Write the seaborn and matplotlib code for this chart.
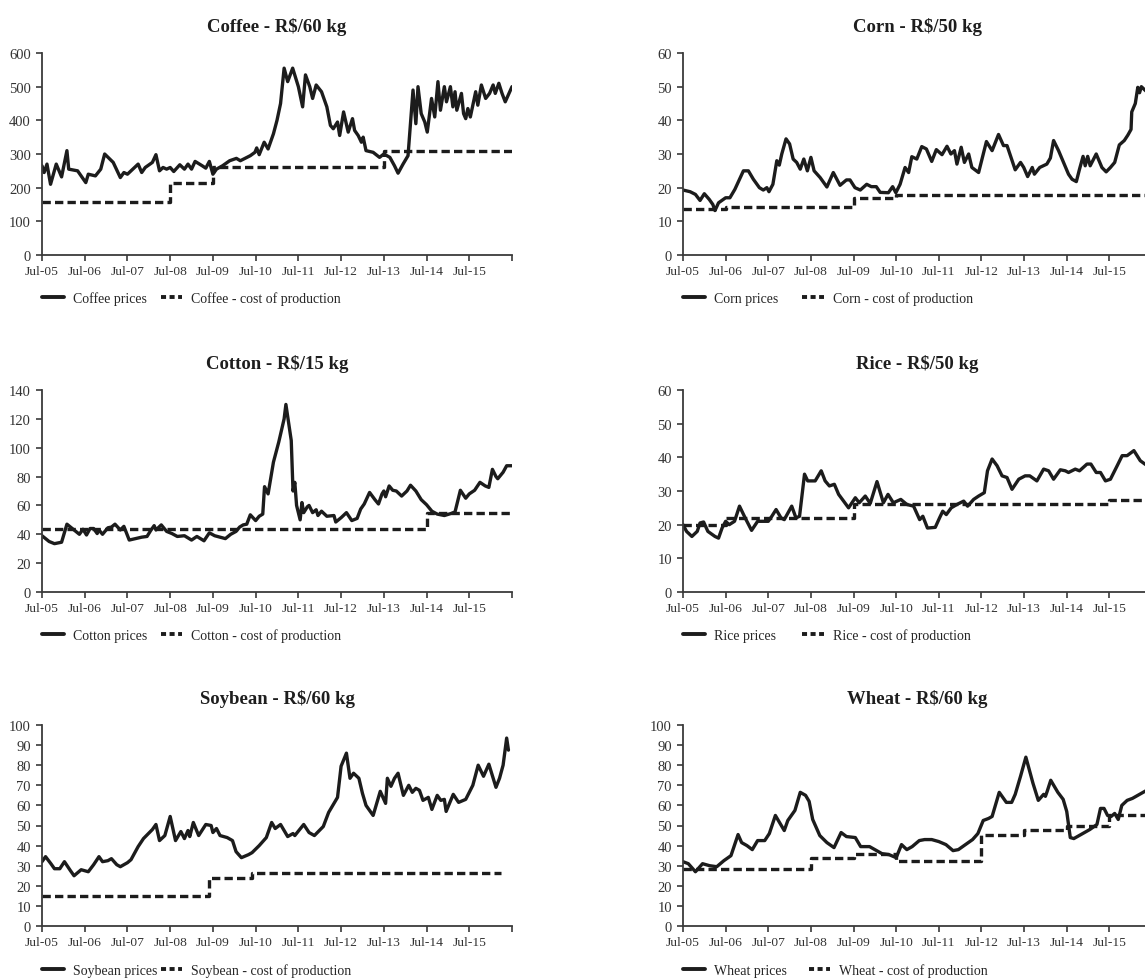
import matplotlib
matplotlib.use("Agg")
import matplotlib.pyplot as plt
from matplotlib.lines import Line2D
import seaborn as sns

# month index: 0 = Jul-05, 132 = Jul-16
tick_months = [0, 12, 24, 36, 48, 60, 72, 84, 96, 108, 120, 132]
tick_labels = ['Jul-05', 'Jul-06', 'Jul-07', 'Jul-08', 'Jul-09', 'Jul-10',
               'Jul-11', 'Jul-12', 'Jul-13', 'Jul-14', 'Jul-15', '']

coffee_m = [0, 0.6, 1.4, 2.4, 4, 5.5, 7, 7.5, 10, 12.3, 13, 15, 16.5, 17.6, 20, 22, 23, 24, 27, 28, 29, 31, 32, 33,
            34, 35, 36, 37, 38.7, 40, 41, 42, 43, 45, 46, 47, 48, 49, 50.7, 52.7, 54.6, 55.7, 58.5, 59.8, 60.3, 61,
            62.4, 63.5, 65, 66, 67, 68, 69, 70.4, 72, 73.2, 74, 75.2, 76, 77, 78.5, 80, 81, 81.8, 83, 83.6, 84.7,
            86, 87.2, 87.8, 88.8, 89.7, 90.2, 91, 93, 94.8, 96, 97.7, 99, 100, 101.4, 102.8, 104.2, 105, 105.6,
            106.5, 107.5, 108.2, 109.4, 110.3, 111.2, 111.9, 113, 113.6, 114.7, 115.4, 116, 116.5, 117.8, 118.4,
            119, 119.6, 120.3, 121, 121.8, 122.4, 123.4, 124.6, 125.7, 126.7, 127.3, 128.3, 129.2, 130.1, 132]
coffee_p = [265, 245, 270, 210, 270, 232, 310, 255, 250, 215, 240, 235, 255, 300, 275, 230, 245, 240, 270, 245, 260,
            275, 298, 250, 260, 255, 260, 248, 268, 255, 270, 255, 278, 265, 258, 278, 240, 255, 265, 280, 287, 280,
            295, 305, 318, 298, 335, 315, 360, 400, 450, 555, 515, 555, 500, 440, 535, 500, 465, 505, 485, 440, 385,
            375, 395, 355, 425, 365, 405, 370, 355, 335, 350, 310, 305, 290, 300, 290, 265, 243, 270, 295, 490, 390,
            500, 420, 395, 365, 465, 410, 515, 430, 500, 455, 500, 440, 485, 430, 480, 420, 405, 435, 410, 445, 485,
            445, 505, 465, 480, 505, 480, 510, 480, 455, 500]
coffee_cost_m = [0, 36, 48, 96, 132]
coffee_cost = [158, 215, 262, 310, 310]

corn_m = [0, 2, 3.5, 4.8, 6, 7.4, 8.4, 9, 10, 12, 13.2, 14.6, 17, 18.4, 19.8, 21.5, 22.6, 23.6, 24.2, 25.3, 26.4,
          27.1, 27.8, 29, 30, 31, 32, 33, 34, 35, 36, 36.9, 38.6, 40.5, 42.3, 44.2, 46, 47, 48.4, 49.9, 51.7, 53,
          54.4, 55.5, 57.8, 59, 59.9, 61.1, 62.5, 63.5, 64.4, 65.8, 67.2, 68.5, 70, 71.3, 72.9, 74.3, 75.4, 76.4,
          77.1, 78.3, 79.2, 80.4, 81.3, 83.2, 85.4, 87, 88.8, 90.2, 91.2, 93.5, 95, 95.9, 97, 98.3, 98.9, 100.4,
          102.4, 103.4, 104.3, 105.7, 108.5, 109.5, 110.7, 111.6, 112.6, 113.2, 113.9, 114.6, 116.3, 117.9, 119.1,
          120.3, 121.5, 122.8, 124.2, 125.2, 126.1, 126.3, 127.3, 128, 128.5, 129, 130, 131]
corn_p = [19.3, 18.8, 18, 16.2, 18.2, 16.5, 15, 13.2, 15.5, 17, 17, 19.5, 25, 25, 22.5, 20, 19.3, 20, 18.8, 21, 28,
          26.7, 30, 34.5, 33, 28.5, 27.5, 25.5, 28.5, 25, 29, 25, 23, 20.2, 24.5, 20.7, 22.3, 22.3, 20, 19.3, 21,
          20.3, 20.3, 18.6, 18.5, 20.3, 18.5, 21, 26, 24.5, 29.2, 28.5, 32.2, 31.5, 27.8, 31.3, 29.8, 32.3, 30, 31,
          27, 32, 27.5, 30, 26, 24.5, 33.7, 31, 35.8, 32.5, 32.5, 25.3, 27.5, 26, 23.3, 26, 24, 26, 27, 28.8, 34,
          31, 24, 22.5, 21.8, 25.5, 29.3, 26.5, 29.3, 26.5, 30, 26, 24.7, 26, 27.5, 32.7, 34, 35.6, 37.3, 42.5, 45,
          49.8, 48.2, 50, 49, 48]
corn_cost_m = [0, 12, 48, 60, 132]
corn_cost = [13.8, 14.4, 16.8, 17.8, 17.8]

cotton_m = [0, 2, 3.5, 5.5, 7, 8, 10.5, 11.5, 12.5, 13.5, 14.5, 15.5, 16, 17, 18.5, 19.5, 20.5, 22, 23, 24.5, 28,
            29.5, 30.5, 31.5, 32, 33.5, 35, 36.5, 38, 40, 42, 43.5, 45.5, 47, 48.5, 50, 51.5, 53, 54.5, 55.5, 56.5,
            57.5, 58.5, 60, 61, 62, 62.5, 63.5, 65, 66.5, 68, 68.5, 70, 70.5, 71, 71.5, 72.5, 73, 73.5, 74.5, 75,
            76, 77, 77.5, 78.5, 80, 82, 82.5, 84, 85.5, 87, 88.5, 89.5, 90.5, 92, 93.5, 94.5, 95.5, 96, 96.5, 97.5,
            98.5, 99.5, 101, 102.5, 103.5, 105, 106.5, 108, 109.5, 111, 113, 115, 116, 117.5, 119, 120, 121.5, 123,
            124.5, 125.5, 126.5, 127.5, 128, 129.5, 130.5, 132]
cotton_p = [39, 35, 33.5, 34.5, 47, 45, 40, 43.5, 39.5, 44, 44, 40.5, 43, 40, 44.5, 45, 47, 43, 45.5, 36, 38, 38.5,
            42.5, 46, 43, 46.5, 42, 40.5, 38.5, 39, 36, 38.5, 35.5, 41, 39, 38, 37, 40, 42, 45, 46.5, 47, 53.5,
            49.5, 52.5, 54, 73, 68, 90, 104, 120, 130, 105, 70, 76, 60, 50, 62, 55, 59, 60, 55, 57, 53, 56, 52.5,
            53, 48.5, 51.5, 55, 49.5, 51, 57.5, 61, 69, 64, 61, 68, 70, 66, 73.5, 70.5, 70, 66.5, 70, 74, 70, 64,
            60.5, 56, 54, 53, 54.5, 55.5, 70.5, 65, 68, 70.5, 76, 73.5, 72.5, 85, 80, 78.5, 83, 87.5, 87.5]
cotton_cost_m = [0, 108, 132]
cotton_cost = [44, 54.5, 54.5]

rice_m = [0, 1, 2.5, 4, 4.8, 5.8, 7, 9, 10, 11, 12, 13, 14.5, 15.9, 17.5, 19.3, 21, 23, 24, 25, 26.2, 27.6, 28.5,
          30.6, 31.8, 32.8, 34.2, 35.1, 37.2, 38.9, 40, 41.2, 42.6, 43.8, 45.2, 46.6, 48.5, 49.6, 51.3, 52.7, 54.6,
          56.4, 57.7, 59.2, 61.3, 63, 64.9, 66.6, 67.5, 68.8, 71, 72.2, 73.1, 74.1, 75.5, 77.1, 79, 80.1, 81.8,
          83.2, 84.8, 85.7, 87, 88.4, 89.8, 91.2, 92.6, 94.5, 96.3, 97.6, 99.6, 101.5, 102.9, 104.3, 106.2, 107.6,
          108.5, 110.4, 111.6, 113.7, 114.8, 116.3, 117.5, 118.9, 120.3, 122.2, 123.6, 125, 126.9, 128.7, 130, 131.5]
rice_p = [20, 18, 16.5, 18, 20.5, 20.8, 18, 16.5, 16, 19, 21, 20, 21, 25.5, 22, 18.3, 21, 21, 21, 22.5, 24.5, 22,
          21.5, 25.5, 22, 22.5, 35, 33, 33, 36, 33, 31.5, 32, 29, 27, 25, 28, 26.5, 28.5, 26.3, 32.8, 26.5, 29,
          26.5, 27.5, 26, 25.5, 21.5, 22.5, 19, 19.2, 22, 24, 23, 25, 26, 27, 25.5, 27.5, 28.5, 29.5, 36, 39.5,
          37.5, 34.5, 34, 30.5, 33.5, 34.5, 34.5, 33, 36.5, 36, 33.5, 36.3, 36, 35.5, 36.5, 36, 38, 38, 35.5, 35.5,
          33, 33.5, 37.5, 40.5, 40.5, 42, 39, 38, 37]
rice_cost_m = [0, 12, 48, 120, 132]
rice_cost = [20, 22, 26, 27.3, 27.3]

soy_m = [0, 1, 2.5, 3.5, 5, 6.3, 8, 9, 11, 13, 14.5, 16, 17, 18.5, 19.5, 21, 22, 24, 25, 27, 28.5, 31, 32, 33, 34.5,
         36, 37.5, 39, 40, 41, 41.5, 42.5, 44, 46, 47.5, 48, 49, 50, 52, 53.5, 54.5, 56, 58, 59, 61, 63, 64.5, 65.5,
         67, 69, 70.5, 71, 73.5, 75, 76.5, 79, 80.5, 82, 83, 84, 85.5, 86.5, 87.5, 89, 90, 91, 93, 95, 96.5, 97,
         98, 99, 100, 101.5, 103, 104, 105, 106, 107, 108.5, 109.5, 111, 112, 113, 113.5, 115.5, 117, 119, 121,
         122.5, 124, 125.5, 127.5, 128.5, 129.5, 130.5, 131]
soy_p = [32, 34.5, 31, 28.5, 28.5, 32, 27.5, 25, 28, 27, 30.5, 34.5, 32, 32.5, 33.5, 30.5, 29.5, 31.5, 33, 39.5,
         43.5, 48, 50.5, 42.5, 45, 54.5, 42.5, 47, 43.5, 47.5, 44.5, 51.5, 45, 50.5, 50, 46.5, 48.5, 45, 44, 42.5,
         37, 34, 35.5, 36.5, 40, 44, 51.5, 48.5, 50.5, 44.5, 46, 45, 50.5, 46.5, 45, 49.5, 56.5, 61, 64, 79.5, 86,
         73.5, 76, 73.5, 66, 60, 55, 67, 61, 73.5, 69.5, 73.5, 76, 65, 70, 66.5, 68.5, 67.5, 62.5, 64, 58, 65,
         62.5, 63, 57, 65.5, 61.5, 63, 70, 80, 74.5, 80.5, 69, 73.5, 80, 93.5, 87.5]
soy_cost_m = [0, 47, 59, 129]
soy_cost = [15, 24, 26.5, 26.5]

wheat_m = [0, 1.5, 3.5, 5.5, 7.5, 9.5, 11.5, 13.5, 15.5, 16.5, 18, 19.5, 21, 23, 24.3, 26, 28.5, 29.5, 31.5, 33,
           34.5, 35.5, 36.5, 38.5, 40.5, 42.5, 44.5, 46, 48.5, 50, 52.5, 54, 56, 58, 60, 61.5, 63, 64.5, 66.5, 68,
           70, 72, 74, 76, 77.5, 79.5, 81.5, 83, 84.5, 86, 87, 89, 91, 92.5, 93.5, 95, 96.5, 98.5, 100, 101.5, 102,
           102.5, 103.5, 105.5, 107, 108, 109, 110, 112, 114.5, 116.5, 117.5, 118.5, 119.5, 120.5, 121.5, 122.5,
           123.5, 125, 126.5, 128, 129.5, 131]
wheat_p = [32, 31, 27, 31, 30, 29.5, 32.5, 35, 45.5, 41.5, 40, 38, 42.5, 42.5, 46, 55, 47.5, 52.5, 57.5, 66.5, 65,
           62, 53, 45, 41.5, 39, 46.5, 44.5, 44, 39.5, 39.5, 38, 36, 35.5, 34, 40.5, 38, 39.5, 42.5, 43, 43, 42,
           40.5, 37.5, 38, 40.5, 43, 46, 52.5, 53.5, 54.5, 66.5, 61.5, 61.5, 65.5, 74.5, 84, 71, 62.5, 65.5, 64.5,
           67, 72.5, 66.5, 63, 57, 44, 43.5, 45.5, 48, 50.5, 58.5, 58.5, 55, 54.5, 56, 53, 60, 62.5, 63.5, 65,
           66.5, 68]
wheat_cost_m = [0, 36, 48, 60, 84, 96, 108, 120, 132]
wheat_cost = [28.5, 34, 36, 32.5, 45.5, 48, 50, 55, 55]

sns.set_style("ticks")
plt.rcParams['font.family'] = ['Liberation Serif', 'DejaVu Serif']

ink = '#1c1c1c'
axis_col = '#3a3a3a'

W, H = 1145, 979
fig = plt.figure(figsize=(W / 100, H / 100), dpi=100)


def panel(px_left, px_top, px_right, px_bottom):
    return fig.add_axes([px_left / W, 1 - px_bottom / H, (px_right - px_left) / W, (px_bottom - px_top) / H])


def draw(ax, title, name, m, p, cm, cp, ymax, ystep, leg2_x, leg_y):
    sns.lineplot(x=m, y=p, ax=ax, color=ink, linewidth=2.4, sort=False)
    sns.lineplot(x=cm, y=cp, ax=ax, color=ink, linewidth=2.4, sort=False,
                 drawstyle='steps-post', linestyle=(0, (2.5, 1.25)))
    ax.set_xlim(0, 132)
    ax.set_ylim(0, ymax)
    ax.set_xticks(tick_months)
    ax.set_xticklabels(tick_labels)
    ax.set_yticks(range(0, ymax + 1, ystep))
    ax.set_xlabel('')
    ax.set_ylabel('')
    ax.set_title(title, fontsize=13.5, fontweight='bold', color='#1e1e1e', pad=16)
    sns.despine(ax=ax)
    for s in ['left', 'bottom']:
        ax.spines[s].set_color(axis_col)
        ax.spines[s].set_linewidth(1.3)
    ax.tick_params(axis='both', direction='out', length=4, width=1.2, color=axis_col,
                   labelcolor='#333333', pad=3)
    ax.tick_params(axis='x', labelsize=9.7)
    ax.tick_params(axis='y', labelsize=10.5, pad=4)

    h1 = Line2D([], [], color=ink, linewidth=2.8)
    h2 = Line2D([], [], color=ink, linewidth=2.8, linestyle=(0, (1.3, 0.9)))
    leg1 = ax.legend(handles=[h1], labels=[name + ' prices'], loc='center left',
                     bbox_to_anchor=(0.0, leg_y), frameon=False, fontsize=10,
                     borderpad=0, borderaxespad=0, handlelength=1.55, handletextpad=0.65)
    ax.add_artist(leg1)
    ax.legend(handles=[h2], labels=[name + ' - cost of production'], loc='center left',
              bbox_to_anchor=(leg2_x, leg_y), frameon=False, fontsize=10,
              borderpad=0, borderaxespad=0, handlelength=1.55, handletextpad=0.65)


ax1 = panel(42, 54, 512, 256)
ax2 = panel(683, 54, 1152, 256)
ax3 = panel(42, 391, 512, 593)
ax4 = panel(683, 391, 1152, 593)
ax5 = panel(42, 726, 512, 927)
ax6 = panel(683, 726, 1152, 927)

draw(ax1, 'Coffee - R$/60 kg', 'Coffee', coffee_m, coffee_p, coffee_cost_m, coffee_cost, 600, 100, 0.253, -0.213)
draw(ax2, 'Corn - R$/50 kg', 'Corn', corn_m, corn_p, corn_cost_m, corn_cost, 60, 10, 0.254, -0.213)
draw(ax3, 'Cotton - R$/15 kg', 'Cotton', cotton_m, cotton_p, cotton_cost_m, cotton_cost, 140, 20, 0.253, -0.213)
draw(ax4, 'Rice - R$/50 kg', 'Rice', rice_m, rice_p, rice_cost_m, rice_cost, 60, 10, 0.254, -0.213)
draw(ax5, 'Soybean - R$/60 kg', 'Soybean', soy_m, soy_p, soy_cost_m, soy_cost, 100, 10, 0.253, -0.22)
draw(ax6, 'Wheat - R$/60 kg', 'Wheat', wheat_m, wheat_p, wheat_cost_m, wheat_cost, 100, 10, 0.268, -0.22)

fig.savefig('out.png', dpi=100)
